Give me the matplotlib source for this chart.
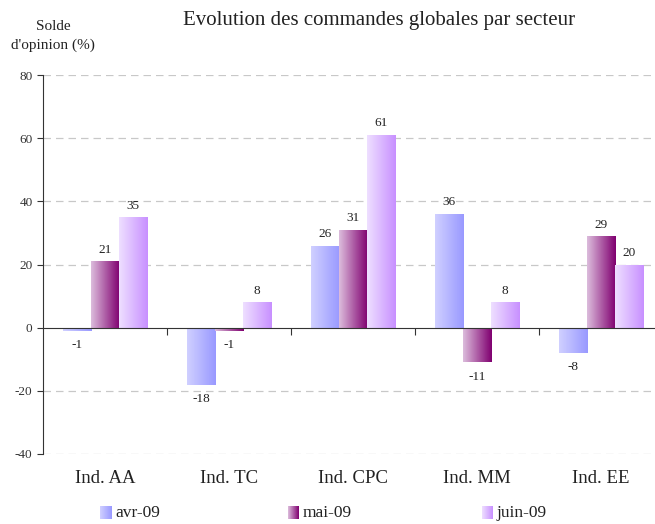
import numpy as np
import matplotlib.pyplot as plt
from matplotlib.colors import LinearSegmentedColormap
from matplotlib.transforms import blended_transform_factory

plt.rcParams['font.family'] = ['Liberation Serif', 'DejaVu Serif']
plt.rcParams['axes.unicode_minus'] = False

# données
secteurs = ['Ind. AA', 'Ind. TC', 'Ind. CPC', 'Ind. MM', 'Ind. EE']
mois = ['avr-09', 'mai-09', 'juin-09']
avr = [-1, -18, 26, 36, -8]
mai = [21, -1, 31, -11, 29]
juin = [35, 8, 61, 8, 20]
yticks = [-40, -20, 0, 20, 40, 60, 80]

# dégradés gauche -> droite
degrades = [('#d0d0ff', '#9999ff'), ('#dcbcdc', '#800070'), ('#eedfff', '#c890ff')]

fig = plt.figure(figsize=(6.55, 5.24), dpi=100)
ax = fig.add_axes([43/655, 70/524, 620/655, 379/524])

x = np.arange(len(secteurs))
larg = 0.226
grad = np.linspace(0, 1, 64).reshape(1, -1)

for k, serie in enumerate([avr, mai, juin]):
    cmap = LinearSegmentedColormap.from_list(mois[k], degrades[k])
    pos = x + (k - 1) * larg
    bars = ax.bar(pos, serie, width=larg, color='none', linewidth=0)
    for b, v in zip(bars, serie):
        x0 = b.get_x()
        im = ax.imshow(grad, extent=[x0, x0 + larg, 0, v], aspect='auto', cmap=cmap,
                       origin='lower', zorder=2, interpolation='bilinear')
        im.set_clip_path(b)
        if v >= 0:
            ax.annotate(str(v), (x0 + larg / 2, v), xytext=(0, 4), textcoords='offset points',
                        ha='center', va='bottom', fontsize=9.5, color='#222222')
        else:
            ax.annotate(str(v), (x0 + larg / 2, v), xytext=(0, -6), textcoords='offset points',
                        ha='center', va='top', fontsize=9.5, color='#222222')

ax.set_xlim(-0.5, len(secteurs) - 0.5)
ax.set_ylim(-40, 80)
ax.set_yticks(yticks)
ax.tick_params(axis='y', direction='out', length=4, labelsize=9.5, colors='#333333')
for t in yticks:
    if t != 0:
        ax.axhline(t, color='#c8c8c8', linestyle=(0, (6, 4)), linewidth=0.9, zorder=0)

ax.spines['top'].set_visible(False)
ax.spines['right'].set_visible(False)
ax.spines['left'].set_color('#333333')
ax.spines['bottom'].set_position(('data', 0))
ax.spines['bottom'].set_color('#333333')
ax.spines['bottom'].set_zorder(3)
ax.set_xticks(x[:-1] + 0.5)
ax.set_xticklabels([])
ax.tick_params(axis='x', direction='out', length=5, colors='#333333')

trans = blended_transform_factory(ax.transData, ax.transAxes)
for i, s in enumerate(secteurs):
    ax.text(i, -0.065, s, transform=trans, ha='center', va='center', fontsize=13.5, color='#222222')

fig.text(379/655, 1 - 20/524, 'Evolution des commandes globales par secteur',
         ha='center', va='center', fontsize=15, color='#222222')
fig.text(53/655, 1 - 36/524, "Solde\nd'opinion (%)", ha='center', va='center',
         fontsize=11, color='#222222', linespacing=1.45)

# légende
leg_x = [100, 288, 482]
for k, lx in enumerate(leg_x):
    cmap = LinearSegmentedColormap.from_list(mois[k], degrades[k])
    lax = fig.add_axes([lx/655, 5/524, 11/655, 13/524])
    lax.imshow(grad, aspect='auto', cmap=cmap, extent=[0, 1, 0, 1])
    lax.axis('off')
    fig.text((lx + 15)/655, 1 - 513/524, mois[k], ha='left', va='center', fontsize=12.5, color='#222222')

fig.savefig('out.png', dpi=100)
